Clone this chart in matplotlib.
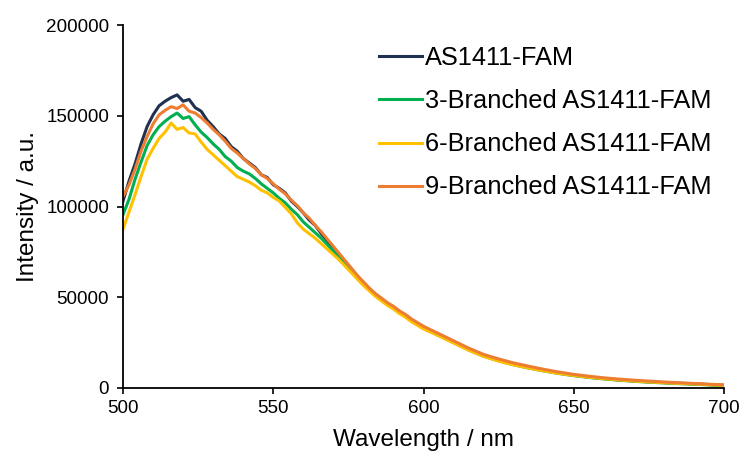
import matplotlib.pyplot as plt

plt.rcParams["font.family"] = ["Liberation Sans", "DejaVu Sans"]

# wavelengths (nm): 2 nm steps to 600, then 5 nm steps
WAVELENGTH = [
    500, 502, 504, 506, 508, 510, 512, 514, 516, 518,
    520, 522, 524, 526, 528, 530, 532, 534, 536, 538,
    540, 542, 544, 546, 548, 550, 552, 554, 556, 558,
    560, 562, 564, 566, 568, 570, 572, 574, 576, 578,
    580, 582, 584, 586, 588, 590, 592, 594, 596, 598,
    600, 605, 610, 615, 620, 625, 630, 635, 640, 645,
    650, 655, 660, 665, 670, 675, 680, 685, 690, 695, 700,
]

AS1411 = [
    103000, 114000, 123500, 134500, 144000, 150500, 155500, 158000, 160000, 161500,
    158000, 159000, 154500, 152500, 147500, 144000, 140000, 137500, 133000, 130500,
    126500, 124000, 121500, 117500, 116000, 112000, 110000, 107500, 103000, 100000,
    96500, 92500, 89500, 85000, 81000, 77000, 73000, 69500, 65000, 61500,
    57500, 54500, 51500, 49000, 46500, 44500, 42000, 40000, 37500, 35500,
    33500, 29500, 25500, 21500, 18000, 15500, 13300, 11500, 9800, 8300,
    7100, 6000, 5200, 4500, 3900, 3400, 3000, 2600, 2300, 1900, 1500,
]

BRANCHED_3 = [
    95500, 104000, 115000, 124500, 133500, 139500, 144000, 147000, 149500, 151500,
    148500, 149500, 145000, 141000, 138000, 134500, 131500, 127500, 125000, 121500,
    119500, 118000, 115500, 112500, 110000, 107500, 104500, 102000, 98500, 95500,
    91500, 88500, 85500, 82500, 79000, 75500, 72000, 68500, 64500, 61000,
    57000, 54000, 51000, 48500, 46000, 44000, 41500, 39500, 37000, 35000,
    33000, 29000, 25000, 21000, 17500, 15000, 12800, 11000, 9400, 8000,
    6800, 5800, 5000, 4300, 3700, 3200, 2800, 2400, 2100, 1700, 1300,
]

BRANCHED_6 = [
    87500, 97000, 106500, 116500, 126000, 132000, 137500, 141000, 146000, 142500,
    143500, 140500, 140000, 135500, 131500, 128500, 125500, 122500, 119500, 116500,
    115000, 113500, 111500, 109000, 107500, 105000, 103000, 99500, 96000, 91000,
    87500, 85000, 82500, 79500, 76500, 73500, 70500, 67000, 63500, 60000,
    56500, 53500, 50500, 48000, 45500, 43500, 41000, 39000, 36500, 34500,
    32500, 28800, 24800, 20800, 17400, 14800, 12700, 11000, 9400, 8000,
    6900, 5900, 5100, 4400, 3800, 3300, 2900, 2500, 2200, 1800, 1400,
]

BRANCHED_9 = [
    105500, 112000, 120500, 130500, 138500, 145500, 150500, 153000, 155000, 154000,
    156000, 152500, 151500, 149000, 146000, 142500, 139500, 136000, 132000, 129500,
    126500, 123500, 121000, 117500, 115500, 112500, 109500, 107000, 103500, 100500,
    96500, 93500, 89500, 86000, 82000, 78000, 74000, 70000, 66000, 62000,
    58500, 55000, 52000, 49500, 47000, 45000, 42500, 40500, 38000, 36000,
    34000, 30000, 26000, 22000, 18500, 16000, 13800, 12000, 10300, 8800,
    7500, 6500, 5600, 4900, 4300, 3800, 3300, 2900, 2500, 2100, 1700,
]

LABELS = [
    "AS1411-FAM",
    "3-Branched AS1411-FAM",
    "6-Branched AS1411-FAM",
    "9-Branched AS1411-FAM",
]
COLORS = ["#1F3050", "#00B050", "#FFC000", "#ED7D31"]


def main() -> None:
    fig = plt.figure(figsize=(7.46, 4.54), dpi=100)
    ax = fig.add_axes([0.1649, 0.1454, 0.8056, 0.7995])

    series = [AS1411, BRANCHED_3, BRANCHED_6, BRANCHED_9]
    for values, label, color in zip(series, LABELS, COLORS):
        ax.plot(WAVELENGTH, values, color=color, lw=2.2, label=label)

    ax.set_xlim(500, 700)
    ax.set_ylim(0, 200000)
    ax.set_xticks([500, 550, 600, 650, 700])
    ax.set_yticks([0, 50000, 100000, 150000, 200000])
    ax.tick_params(labelsize=13.6, direction="out", length=4, width=1.2, colors="black")
    ax.tick_params(axis="y", pad=6)
    ax.tick_params(axis="x", pad=5)

    for side in ("top", "right"):
        ax.spines[side].set_visible(False)
    for side in ("left", "bottom"):
        ax.spines[side].set_linewidth(1.3)

    ax.set_xlabel("Wavelength / nm", fontsize=17.5, labelpad=8)
    ax.set_ylabel("Intensity / a.u.", fontsize=17.5, labelpad=5)

    ax.legend(
        loc="upper left",
        bbox_to_anchor=(0.508, 0.898),
        bbox_transform=fig.transFigure,
        frameon=False,
        fontsize=18.3,
        handlelength=1.7,
        handletextpad=0.12,
        labelspacing=0.75,
        borderpad=0.0,
        borderaxespad=0.0,
    )

    fig.savefig("out.png", dpi=100)
    plt.close(fig)


if __name__ == "__main__":
    main()
